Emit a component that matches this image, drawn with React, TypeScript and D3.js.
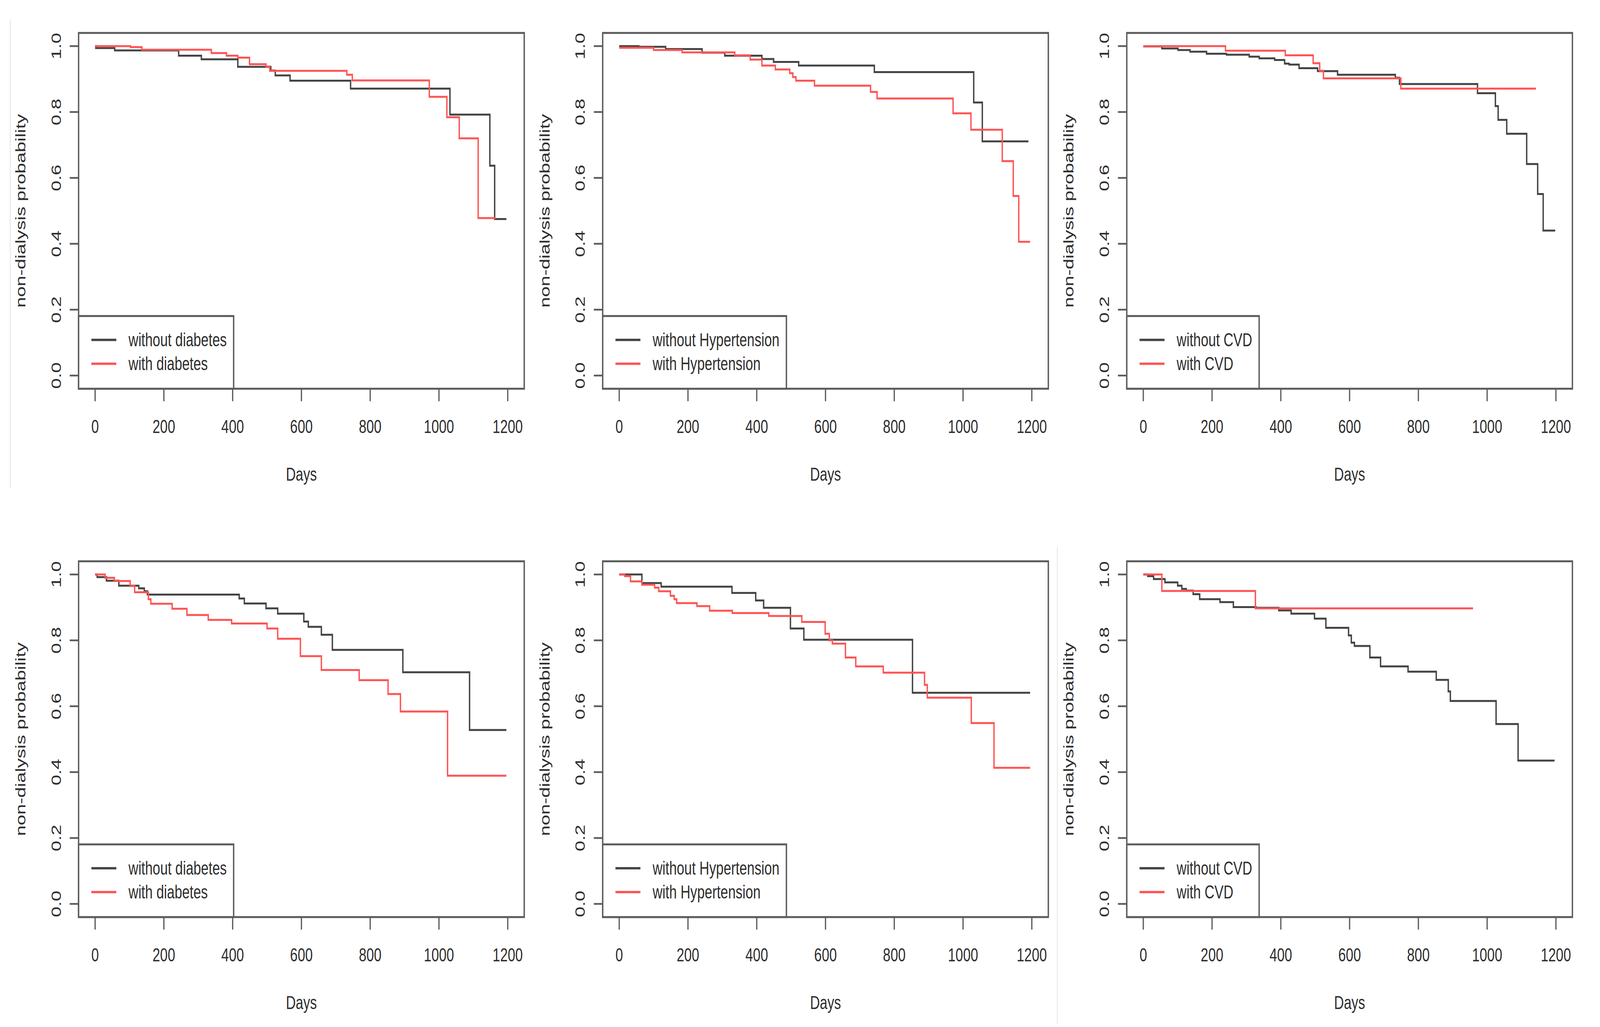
import * as d3 from "d3";

const W = 5770;
const H = 2628;
const FONT = "'Liberation Sans', Arial, sans-serif";
const FS = 49;

const dayTicks = [0, 200, 400, 600, 800, 1000, 1200];
const probTicks = [0, 0.2, 0.4, 0.6, 0.8, 1.0];
const xTitle = "Days";
const yTitle = "non-dialysis probability";

type Step = [number, number]; // [day, survival from that day on]

// top row
const diabetesWithoutTop: Step[] = [[0, 1], [2, 0.994], [57, 0.987], [243, 0.971], [309, 0.96], [415, 0.937], [511, 0.926], [524, 0.911], [567, 0.895], [743, 0.871], [1032, 0.792], [1148, 0.637], [1162, 0.475], [1196, 0.475]];
const diabetesWithTop: Step[] = [[0, 1], [103, 0.997], [136, 0.989], [338, 0.979], [382, 0.971], [415, 0.965], [449, 0.945], [497, 0.938], [508, 0.925], [732, 0.913], [748, 0.896], [972, 0.846], [1023, 0.784], [1059, 0.72], [1114, 0.478], [1165, 0.478]];
const htnWithoutTop: Step[] = [[0, 1], [57, 0.998], [135, 0.991], [241, 0.98], [307, 0.971], [415, 0.961], [449, 0.952], [522, 0.941], [742, 0.921], [1031, 0.829], [1056, 0.711], [1190, 0.711]];
const htnWithTop: Step[] = [[0, 0.995], [100, 0.988], [183, 0.981], [336, 0.972], [381, 0.959], [415, 0.941], [454, 0.929], [496, 0.918], [505, 0.906], [514, 0.895], [568, 0.88], [731, 0.861], [750, 0.841], [971, 0.796], [1023, 0.746], [1114, 0.651], [1146, 0.545], [1162, 0.406], [1195, 0.406]];
const cvdWithoutTop: Step[] = [[0, 0.999], [54, 0.993], [101, 0.988], [136, 0.983], [184, 0.977], [242, 0.974], [308, 0.968], [337, 0.963], [382, 0.958], [411, 0.947], [424, 0.944], [453, 0.933], [507, 0.924], [565, 0.913], [733, 0.904], [745, 0.885], [972, 0.857], [1024, 0.818], [1032, 0.776], [1057, 0.734], [1115, 0.642], [1147, 0.551], [1163, 0.44], [1198, 0.44]];
const cvdWithTop: Step[] = [[0, 1], [239, 0.986], [413, 0.972], [494, 0.948], [513, 0.925], [524, 0.902], [749, 0.871], [1142, 0.871]];

// bottom row
const diabetesWithoutBottom: Step[] = [[0, 1], [6, 0.992], [33, 0.981], [69, 0.966], [127, 0.958], [143, 0.949], [152, 0.939], [419, 0.927], [434, 0.912], [497, 0.897], [531, 0.881], [607, 0.857], [620, 0.841], [658, 0.817], [690, 0.771], [895, 0.703], [1089, 0.528], [1196, 0.528]];
const diabetesWithBottom: Step[] = [[0, 1], [29, 0.99], [56, 0.98], [102, 0.965], [115, 0.946], [155, 0.925], [162, 0.911], [224, 0.896], [267, 0.877], [329, 0.862], [397, 0.851], [500, 0.836], [531, 0.805], [597, 0.752], [658, 0.71], [768, 0.679], [852, 0.637], [888, 0.584], [1025, 0.389], [1196, 0.389]];
const htnWithoutBottom: Step[] = [[0, 1], [66, 0.974], [122, 0.963], [328, 0.944], [397, 0.921], [420, 0.899], [498, 0.836], [537, 0.802], [853, 0.641], [1195, 0.641]];
const htnWithBottom: Step[] = [[0, 1], [16, 0.995], [33, 0.979], [66, 0.969], [103, 0.96], [115, 0.949], [149, 0.935], [160, 0.925], [167, 0.913], [226, 0.904], [263, 0.89], [329, 0.883], [435, 0.874], [531, 0.856], [599, 0.82], [611, 0.8], [620, 0.79], [658, 0.748], [688, 0.721], [768, 0.702], [888, 0.665], [896, 0.626], [1024, 0.549], [1090, 0.413], [1195, 0.413]];
const cvdWithoutBottom: Step[] = [[0, 1], [13, 0.995], [30, 0.986], [63, 0.976], [100, 0.966], [112, 0.956], [125, 0.951], [145, 0.94], [164, 0.925], [223, 0.916], [262, 0.901], [328, 0.899], [394, 0.891], [430, 0.881], [498, 0.866], [531, 0.838], [597, 0.815], [605, 0.793], [614, 0.783], [659, 0.748], [690, 0.721], [770, 0.705], [852, 0.68], [887, 0.645], [893, 0.616], [1026, 0.546], [1090, 0.435], [1196, 0.435]];
const cvdWithBottom: Step[] = [[0, 1], [54, 0.95], [326, 0.897], [959, 0.897]];

const diabetesLabels = ["without diabetes", "with diabetes"];
const htnLabels = ["without Hypertension", "with Hypertension"];
const cvdLabels = ["without CVD", "with CVD"];

const panels = [
  { row: 0, col: 0, without: diabetesWithoutTop, withS: diabetesWithTop, labels: diabetesLabels },
  { row: 0, col: 1, without: htnWithoutTop, withS: htnWithTop, labels: htnLabels },
  { row: 0, col: 2, without: cvdWithoutTop, withS: cvdWithTop, labels: cvdLabels },
  { row: 1, col: 0, without: diabetesWithoutBottom, withS: diabetesWithBottom, labels: diabetesLabels },
  { row: 1, col: 1, without: htnWithoutBottom, withS: htnWithBottom, labels: htnLabels },
  { row: 1, col: 2, without: cvdWithoutBottom, withS: cvdWithBottom, labels: cvdLabels },
];

// where day 0 / prob 1.0 sit in each column / row
const colX0 = [343, 2233, 4123];
const rowY1 = [118, 1470];
const spanX = 1488;
const spanY = 843;

const BLACK = "#444";
const RED = "#ff5454";
const AXIS = "#5c5c5c";
const TEXT = "#2e2e2e";

let ctx: CanvasRenderingContext2D | null = null;
function textWidth(s: string) {
  if (!ctx) ctx = document.createElement("canvas").getContext("2d");
  if (!ctx) return s.length * FS * 0.5;
  ctx.font = `${FS}px "Liberation Sans"`;
  return ctx.measureText(s).width;
}

function Panel({ p }: { p: any }) {
  const x = d3.scaleLinear().domain([0, 1200]).range([colX0[p.col], colX0[p.col] + spanX]);
  const y = d3.scaleLinear().domain([0, 1]).range([rowY1[p.row] + spanY, rowY1[p.row]]);

  // R pads the data range by 4% on each side
  const bx0 = x(-48), bx1 = x(1248);
  const by0 = y(1.04), by1 = y(-0.04);

  const line = d3.line<Step>()
    .x((d) => x(d[0]))
    .y((d) => y(d[1]))
    .curve(d3.curveStepAfter);

  const legW = 180 + Math.max(...p.labels.map(textWidth)) + 25;
  const legH = 186;
  const rowsY = [by1 - 125, by1 - 64];

  return (
    <g>
      <path d={line(p.without) || ""} fill="none" stroke={BLACK} strokeWidth={5} />
      <path d={line(p.withS) || ""} fill="none" stroke={RED} strokeWidth={5} />

      <rect x={bx0} y={by0} width={bx1 - bx0} height={by1 - by0} fill="none" stroke={AXIS} strokeWidth={5} />

      {dayTicks.map((t) => (
        <g key={"x" + t}>
          <line x1={x(t)} x2={x(t)} y1={by1} y2={by1 + 32} stroke={AXIS} strokeWidth={4.5} />
          <text x={x(t)} y={by1 + 113} textAnchor="middle" fontSize={FS} fill={TEXT}>{t}</text>
        </g>
      ))}
      {probTicks.map((t) => (
        <g key={"y" + t}>
          <line x1={bx0} x2={bx0 - 32} y1={y(t)} y2={y(t)} stroke={AXIS} strokeWidth={4.5} />
          <text transform={`translate(${bx0 - 64},${y(t)}) rotate(-90)`} textAnchor="middle" fontSize={FS} fill={TEXT}>
            {t.toFixed(1)}
          </text>
        </g>
      ))}

      <text x={(bx0 + bx1) / 2} y={by1 + 235} textAnchor="middle" fontSize={FS} fill={TEXT}>{xTitle}</text>
      <text transform={`translate(${bx0 - 192},${(by0 + by1) / 2}) rotate(-90)`} textAnchor="middle" fontSize={FS} fill={TEXT}>
        {yTitle}
      </text>

      <rect x={bx0} y={by1 - legH} width={legW} height={legH} fill="white" stroke={AXIS} strokeWidth={5} />
      {[BLACK, RED].map((c, i) => (
        <g key={c}>
          <line x1={bx0 + 46} x2={bx0 + 136} y1={rowsY[i]} y2={rowsY[i]} stroke={c} strokeWidth={6} />
          <text x={bx0 + 180} y={rowsY[i]} dominantBaseline="central" fontSize={FS} fill={TEXT}>{p.labels[i]}</text>
        </g>
      ))}
    </g>
  );
}

export default function App() {
  // the window may be narrower than the chart: stretch the drawing onto whatever viewport we get
  return (
    <svg viewBox={`0 0 ${W} ${H}`} preserveAspectRatio="none"
      style={{ position: "fixed", left: 0, top: 0, width: "100vw", height: "100vh", background: "white", display: "block" }}
      fontFamily={FONT}>
      <rect width={W} height={H} fill="white" />
      {/* faint seams left over from the pasted screenshots */}
      <line x1={37} x2={37} y1={50} y2={1250} stroke="#e6e6e6" strokeWidth={3} />
      <line x1={3813} x2={3813} y1={1400} y2={2620} stroke="#e6e6e6" strokeWidth={3} />
      {panels.map((p, i) => <Panel key={i} p={p} />)}
    </svg>
  );
}
